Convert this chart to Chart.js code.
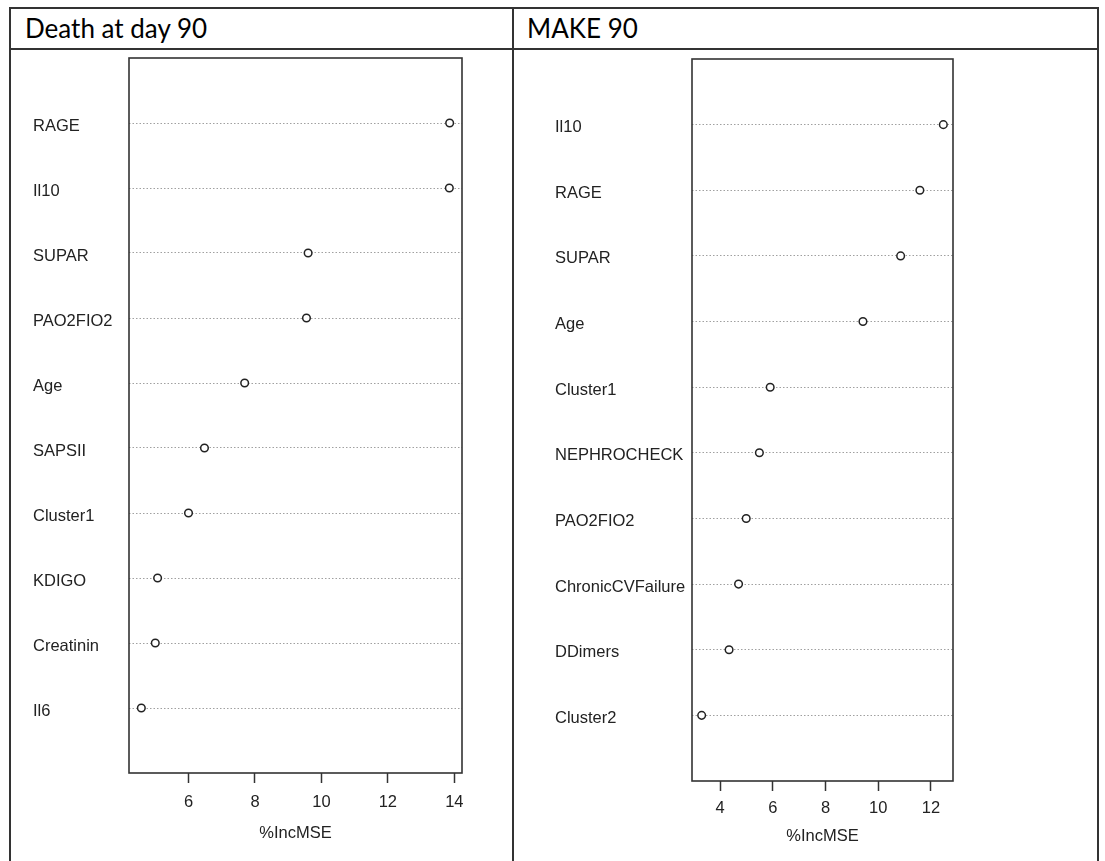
<!DOCTYPE html>
<html><head><meta charset="utf-8">
<script src="https://cdn.jsdelivr.net/npm/chart.js@4.4.0/dist/chart.umd.min.js"></script>
<style>
html,body{margin:0;padding:0;background:#fff;}
body{width:1105px;height:861px;position:relative;overflow:hidden;}
.ln{position:absolute;background:#333;}
.hdr{position:absolute;font-family:Lato,'Open Sans',sans-serif;font-size:26px;color:#000;line-height:1;white-space:nowrap;}
.cv{position:absolute;top:0;height:861px;}
</style></head><body>
<div class="ln" style="left:9px;top:7px;width:1090px;height:2px"></div>
<div class="ln" style="left:9px;top:48px;width:1090px;height:2px"></div>
<div class="ln" style="left:9px;top:7px;width:2px;height:860px"></div>
<div class="ln" style="left:512px;top:7px;width:2px;height:860px"></div>
<div class="ln" style="left:1097px;top:7px;width:2px;height:860px"></div>
<div class="hdr" style="left:25px;top:15px">Death at day 90</div>
<div class="hdr" style="left:527px;top:15px">MAKE 90</div>
<div class="cv" style="left:0;width:512px"><canvas id="c1"></canvas></div>
<div class="cv" style="left:513px;width:584px"><canvas id="c2"></canvas></div>
<script>
// ---- Data ----
const deathLabels = ["RAGE","Il10","SUPAR","PAO2FIO2","Age","SAPSII","Cluster1","KDIGO","Creatinin","Il6"];
const deathValues = [13.86, 13.85, 9.60, 9.55, 7.69, 6.48, 6.00, 5.07, 5.00, 4.58];
const deathTicks = [6, 8, 10, 12, 14];

const makeLabels = ["Il10","RAGE","SUPAR","Age","Cluster1","NEPHROCHECK","PAO2FIO2","ChronicCVFailure","DDimers","Cluster2"];
const makeValues = [12.47, 11.58, 10.85, 9.42, 5.90, 5.49, 4.99, 4.70, 4.34, 3.30];
const makeTicks = [4, 6, 8, 10, 12];

const axisTitle = "%IncMSE";

const boxPlugin = {
  id: 'box',
  beforeDatasetsDraw(chart) {
    const {ctx, chartArea: a} = chart;
    ctx.save();
    ctx.strokeStyle = '#333';
    ctx.lineWidth = 1.6;
    ctx.setLineDash([]);
    ctx.strokeRect(a.left, a.top, a.right - a.left, a.bottom - a.top);
    ctx.restore();
  }
};

function makeChart(id, labels, values, xTicks, L) {
  const lo = Math.min(...values), hi = Math.max(...values);
  const ext = (hi - lo) * 0.04;
  const font = {family: "'Liberation Sans', Arial, sans-serif", size: 16.5};
  return new Chart(document.getElementById(id), {
    type: 'scatter',
    data: {
      datasets: [{
        data: values.map((v, i) => ({x: v, y: i + 1})),
        pointRadius: 3.8,
        pointBorderWidth: 1.5,
        pointBorderColor: '#222',
        pointBackgroundColor: '#fff',
        showLine: false
      }]
    },
    options: {
      responsive: true,
      maintainAspectRatio: false,
      animation: false,
      events: [],
      layout: {padding: {left: L.padLeft, top: L.padTop, right: L.padRight, bottom: 0}},
      plugins: {legend: {display: false}, tooltip: {enabled: false}},
      scales: {
        x: {
          type: 'linear',
          position: 'bottom',
          min: lo - ext,
          max: hi + ext,
          afterBuildTicks: s => { s.ticks = xTicks.map(v => ({value: v})); },
          afterFit: s => { s.height = L.xHeight; },
          grid: {drawOnChartArea: false, drawTicks: true, tickLength: 10, tickColor: '#333', tickWidth: 1.5, color: '#333'},
          border: {display: false},
          ticks: {font: font, color: '#222', padding: L.tickPad, autoSkip: false, maxRotation: 0},
          title: {display: true, text: axisTitle, font: font, color: '#222', padding: {top: 0, bottom: L.titlePad}}
        },
        y: {
          type: 'linear',
          min: 0,
          max: 11,
          reverse: true,
          afterBuildTicks: s => { s.ticks = labels.map((_, i) => ({value: i + 1})); },
          afterFit: s => { s.width = L.yWidth; },
          grid: {drawTicks: false, color: '#a0a0a0', lineWidth: 1},
          border: {display: false, dash: [1.5, 2]},
          ticks: {font: font, color: '#222', crossAlign: 'far', padding: 0, autoSkip: false, labelOffset: 3,
                  callback: v => labels[Math.round(v) - 1]}
        }
      }
    },
    plugins: [boxPlugin]
  });
}

makeChart('c1', deathLabels, deathValues, deathTicks,
  {padLeft: 33, padTop: 58, padRight: 50, yWidth: 96, xHeight: 88, tickPad: 10, titlePad: 18});
makeChart('c2', makeLabels, makeValues, makeTicks,
  {padLeft: 42, padTop: 59, padRight: 144, yWidth: 137, xHeight: 80, tickPad: 8, titlePad: 15});
</script>
</body></html>
